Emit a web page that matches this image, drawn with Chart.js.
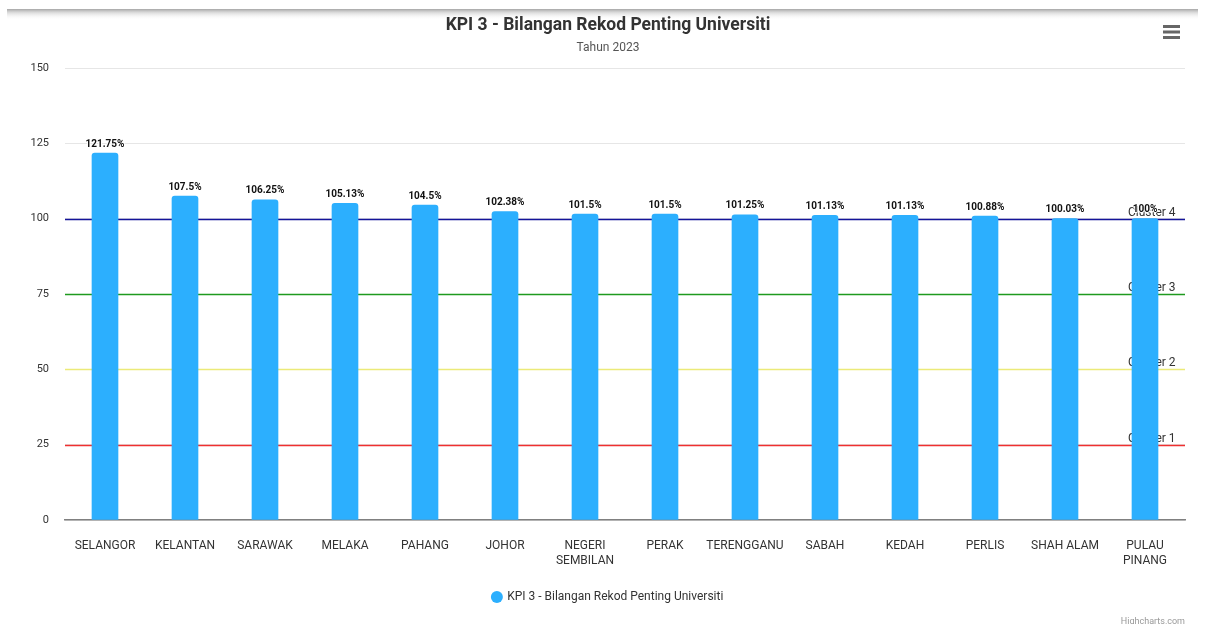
<!DOCTYPE html>
<html>
<head>
<meta charset="utf-8">
<script src="https://cdn.jsdelivr.net/npm/chart.js@4/dist/chart.umd.min.js"></script>
<style>
  html, body { margin: 0; padding: 0; background: #fff; }
  #wrap { width: 1205px; height: 624px; position: relative; }
</style>
</head>
<body>
<div id="wrap"><canvas id="c" width="1205" height="624"></canvas></div>
<script>
// ---- Data ----
const chartTitle = 'KPI 3 - Bilangan Rekod Penting Universiti';
const chartSubtitle = 'Tahun 2023';
const seriesName = 'KPI 3 - Bilangan Rekod Penting Universiti';
const categories = [
  'SELANGOR', 'KELANTAN', 'SARAWAK', 'MELAKA', 'PAHANG', 'JOHOR',
  ['NEGERI', 'SEMBILAN'], 'PERAK', 'TERENGGANU', 'SABAH', 'KEDAH', 'PERLIS',
  'SHAH ALAM', ['PULAU', 'PINANG']
];
const values = [121.75, 107.5, 106.25, 105.13, 104.5, 102.38, 101.5, 101.5, 101.25, 101.13, 101.13, 100.88, 100.03, 100];
const yTicks = [0, 25, 50, 75, 100, 125, 150];
const tierValues = [100, 75, 50, 25];
const tierLabels = ['Cluster 4', 'Cluster 3', 'Cluster 2', 'Cluster 1'];
const tierColors = ['#14149a', '#1f9a1f', '#ecea78', '#f03030'];

const FONT = 'Roboto, "Liberation Sans", Arial, sans-serif';

const bgPlugin = {
  id: 'bg',
  beforeDraw(chart) {
    const ctx = chart.ctx;
    ctx.save();
    ctx.fillStyle = '#fff';
    ctx.fillRect(0, 0, chart.width, chart.height);
    // top shadow band
    const g = ctx.createLinearGradient(0, 9, 0, 20);
    g.addColorStop(0, 'rgba(150,150,150,0.85)');
    g.addColorStop(0.35, 'rgba(190,190,190,0.5)');
    g.addColorStop(1, 'rgba(255,255,255,0)');
    ctx.fillStyle = g;
    ctx.fillRect(7, 9, chart.width - 14, 11);
    // title & subtitle
    ctx.fillStyle = '#333';
    ctx.textAlign = 'center';
    ctx.textBaseline = 'alphabetic';
    ctx.font = 'bold 17.5px ' + FONT;
    ctx.fillText(chartTitle, 608, 30);
    ctx.fillStyle = '#555';
    ctx.font = '12px ' + FONT;
    ctx.fillText(chartSubtitle, 608, 51);
    // menu icon
    ctx.fillStyle = '#666';
    [25, 30.5, 36].forEach(y => ctx.fillRect(1163, y, 17, 3));
    // credit
    ctx.fillStyle = '#999';
    ctx.font = '9px ' + FONT;
    ctx.textAlign = 'right';
    ctx.fillText('Highcharts.com', 1185, 624);
    ctx.restore();
  }
};

const tierPlugin = {
  id: 'tiers',
  beforeDatasetsDraw(chart) {
    const ctx = chart.ctx;
    const y = chart.scales.y;
    const a = chart.chartArea;
    ctx.save();
    tierValues.forEach((v, i) => {
      const py = Math.round(y.getPixelForValue(v)) + 0.5;
      ctx.strokeStyle = tierColors[i];
      ctx.lineWidth = 1.5;
      ctx.beginPath();
      ctx.moveTo(a.left, py);
      ctx.lineTo(a.right, py);
      ctx.stroke();
      ctx.fillStyle = '#333';
      ctx.font = '12px ' + FONT;
      ctx.textAlign = 'left';
      ctx.textBaseline = 'alphabetic';
      ctx.fillText(tierLabels[i], 1128, py - 4);
    });
    ctx.restore();
  }
};

const labelPlugin = {
  id: 'dlabels',
  afterDatasetsDraw(chart) {
    const ctx = chart.ctx;
    const meta = chart.getDatasetMeta(0);
    ctx.save();
    ctx.font = 'bold 10px ' + FONT;
    ctx.textAlign = 'center';
    ctx.textBaseline = 'middle';
    ctx.lineJoin = 'round';
    meta.data.forEach((bar, i) => {
      const txt = values[i] + '%';
      const ty = bar.y - 9;
      ctx.strokeStyle = '#fff';
      ctx.lineWidth = 2;
      ctx.strokeText(txt, bar.x, ty);
      ctx.fillStyle = '#111';
      ctx.fillText(txt, bar.x, ty);
    });
    ctx.restore();
  }
};

new Chart(document.getElementById('c'), {
  type: 'bar',
  data: {
    labels: categories,
    datasets: [{
      label: seriesName,
      data: values,
      backgroundColor: '#2caffe',
      borderWidth: 0,
      borderRadius: { topLeft: 3, topRight: 3, bottomLeft: 0, bottomRight: 0 },
      borderSkipped: 'bottom',
      barThickness: 26
    }]
  },
  options: {
    responsive: false,
    animation: false,
    devicePixelRatio: 1,
    layout: { padding: { top: 68, left: 31, right: 20, bottom: 11 } },
    plugins: {
      title: { display: false },
      tooltip: { enabled: false },
      legend: {
        display: true,
        position: 'bottom',
        labels: {
          usePointStyle: true,
          pointStyle: 'circle',
          boxWidth: 8.5,
          boxHeight: 8.5,
          padding: 10,
          color: '#333',
          font: { family: FONT, size: 12 }
        }
      }
    },
    scales: {
      x: {
        grid: { display: false, drawTicks: false },
        border: { display: true, color: '#808080', width: 1.5 },
        ticks: {
          color: '#333',
          font: { family: FONT, size: 12, lineHeight: 1.25 },
          padding: 18,
          maxRotation: 0,
          autoSkip: false
        },
        afterFit(s) { s.height = 61; }
      },
      y: {
        min: 0,
        max: 150,
        afterBuildTicks(s) { s.ticks = yTicks.map(v => ({ value: v })); },
        grid: { color: '#e6e6e6', lineWidth: 1, drawTicks: false },
        border: { display: false },
        ticks: {
          color: '#333',
          font: { family: FONT, size: 11 },
          padding: 16
        },
        afterFit(s) { s.width = 34; }
      }
    }
  },
  plugins: [bgPlugin, tierPlugin, labelPlugin]
});
</script>
</body>
</html>
